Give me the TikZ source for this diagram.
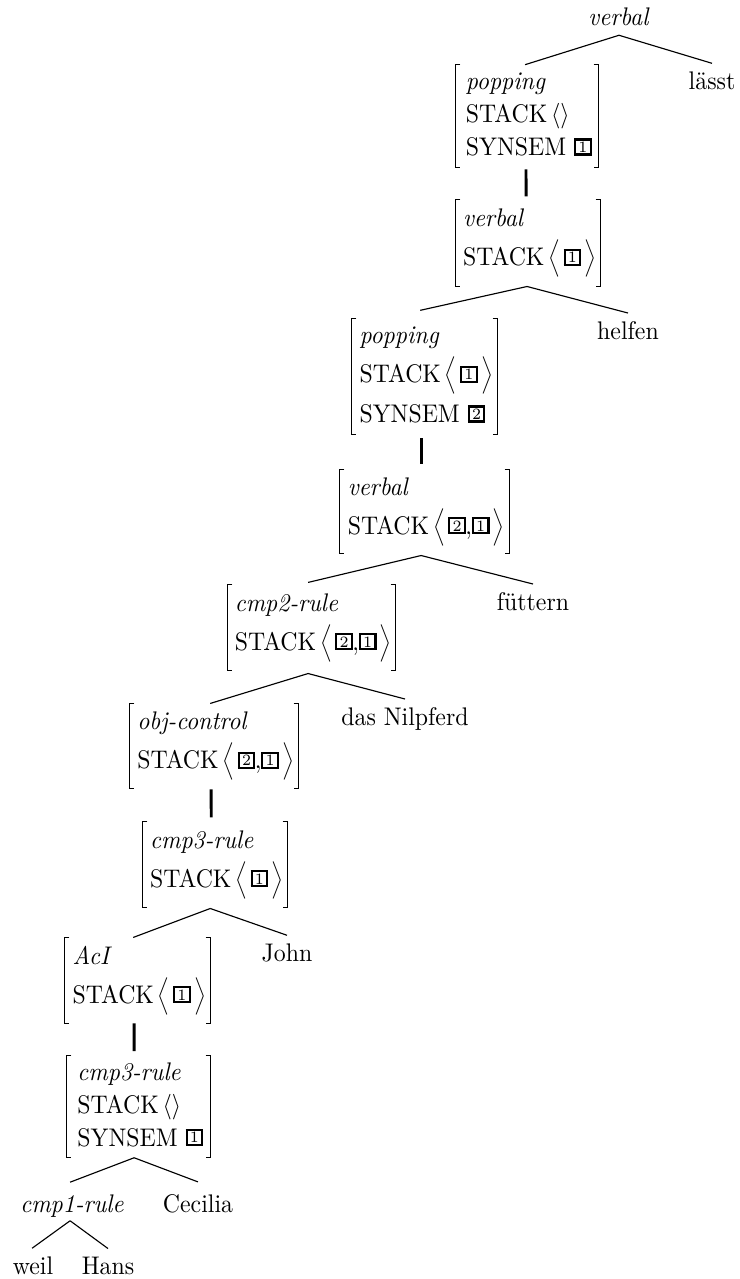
\documentclass[tikz,border=0pt]{standalone}
\usepackage{graphicx}
\newcommand{\tg}[1]{\raisebox{1.3pt}{\setlength{\fboxsep}{0.45pt}\setlength{\fboxrule}{0.85pt}\fbox{\kern0.5pt\fontsize{6.2}{6.2}\selectfont #1\kern0.5pt}}}
\newcommand{\bigla}{\raisebox{0.8pt}{\scalebox{0.82}{$\Big\langle$}}}
\newcommand{\bigra}{\raisebox{0.8pt}{\scalebox{0.82}{$\Big\rangle$}}}
\newcommand{\lst}[1]{\ensuremath{\vphantom{\Big\langle}\mkern3mu\bigla\mkern2.5mu #1\mkern2.5mu\bigra}}
\newcommand{\cma}{\mkern-0.5mu{,}}
\renewcommand{\arraystretch}{1.08}
\newenvironment{avmtab}{\begin{tabular}{@{\hspace{1.5pt}}l@{}}}{\end{tabular}}
\tikzset{
  avm/.style={inner xsep=1pt, inner ysep=0.5pt},
  bwh/.style 2 args={minimum width=#1*0.42pt, minimum height=#2*0.3925pt},
  word/.style={anchor=base, inner sep=3.33pt},
  thin/.style={line width=0.45pt},
  bar/.style={line width=1.2pt},
  bracket/.style={line width=0.5pt}
}
\begin{document}
\begin{tikzpicture}
\useasboundingbox (0pt,0pt) rectangle (310.38pt,-537.18pt);
\begin{scope}[transform canvas={yscale=1.07}, x=0.42pt, y=-0.3925pt]
% word nodes
\node[word] (vtop) at (619,26) {\textit{verbal}};
\node[word] (laesst) at (712,90) {lässt};
\node[word] (helfen) at (628,340) {helfen};
\node[word] (fuettern) at (533,611) {füttern};
\node[word] (nilpferd) at (405,726) {das Nilpferd};
\node[word] (john) at (287,962) {John};
\node[word] (cmp1) at (72,1213) {\textit{cmp1-rule}};
\node[word] (cecilia) at (198,1213) {Cecilia};
\node[word] (weil) at (33,1275) {weil};
\node[word] (hans) at (108,1275) {Hans};
% AVM nodes
\node[avm, bwh={142}{100}] (A1) at (527,116) {\begin{avmtab}\textit{popping}\\ STACK\,$\langle\rangle$\\ SYNSEM \tg{1}\end{avmtab}};
\node[avm, bwh={144}{86}] (A2) at (528,243) {\begin{avmtab}\textit{verbal}\\ STACK\lst{\tg{1}}\end{avmtab}};
\node[avm, bwh={145}{113}] (A3) at (424.5,376.5) {\begin{avmtab}\textit{popping}\\ STACK\lst{\tg{1}}\\ SYNSEM \tg{2}\end{avmtab}};
\node[avm, bwh={169}{83}] (A4) at (424.5,511.5) {\begin{avmtab}\textit{verbal}\\ STACK\lst{\tg{2}\cma\tg{1}}\end{avmtab}};
\node[avm, bwh={167}{85}] (A5) at (311.5,627.5) {\begin{avmtab}\textit{cmp2-rule}\\ STACK\lst{\tg{2}\cma\tg{1}}\end{avmtab}};
\node[avm, bwh={168}{84}] (A6) at (214,746) {\begin{avmtab}\textit{obj-control}\\ STACK\lst{\tg{2}\cma\tg{1}}\end{avmtab}};
\node[avm, bwh={144}{85}] (A7) at (215,864.5) {\begin{avmtab}\textit{cmp3-rule}\\ STACK\lst{\tg{1}}\end{avmtab}};
\node[avm, bwh={145}{85}] (A8) at (137.5,980.5) {\begin{avmtab}\textit{AcI}\\ STACK\lst{\tg{1}}\end{avmtab}};
\node[avm, bwh={143}{99}] (A9) at (138.5,1106.5) {\begin{avmtab}\textit{cmp3-rule}\\ STACK\,$\langle\rangle$\\ SYNSEM \tg{1}\end{avmtab}};
% brackets
\foreach \n in {1,...,9}{
  \draw[bracket] ([xshift=2pt]A\n.north west) -- (A\n.north west) -- (A\n.south west) -- ([xshift=2pt]A\n.south west);
  \draw[bracket] ([xshift=-2pt]A\n.north east) -- (A\n.north east) -- (A\n.south east) -- ([xshift=-2pt]A\n.south east);
}
% tree lines
\draw[thin] (vtop.south) -- ([xshift=-0.8pt]A1.north);
\draw[thin] (vtop.south) -- (laesst.north);
\draw[bar] ([xshift=-0.4pt,yshift=-0.8pt]A1.south) -- ([xshift=-0.8pt,yshift=1.2pt]A2.north);
\draw[thin] ([xshift=-0.4pt]A2.south) -- ([xshift=-1.8pt,yshift=3.3pt]A3.north);
\draw[thin] ([xshift=-0.4pt]A2.south) -- (helfen.north);
\draw[bar] ([xshift=-1.43pt,yshift=-1.6pt]A3.south) -- ([xshift=-1.43pt,yshift=2pt]A4.north);
\draw[thin] ([xshift=-1.43pt,yshift=-0.8pt]A4.south) -- ([xshift=-1.43pt,yshift=0.8pt]A5.north);
\draw[thin] ([xshift=-1.43pt,yshift=-0.8pt]A4.south) -- (fuettern.north);
\draw[thin] ([xshift=-1.43pt,yshift=-1.2pt]A5.south) -- ([xshift=-1.6pt]A6.north);
\draw[thin] ([xshift=-1.43pt,yshift=-1.2pt]A5.south) -- (nilpferd.north);
\draw[bar] ([xshift=-1.2pt,yshift=-0.4pt]A6.south) -- ([xshift=-1.6pt,yshift=1.6pt]A7.north);
\draw[thin] ([xshift=-2pt,yshift=-0.4pt]A7.south) -- ([xshift=-1.8pt]A8.north);
\draw[thin] ([xshift=-2pt,yshift=-0.4pt]A7.south) -- (john.north);
\draw[bar] ([xshift=-1.43pt]A8.south) -- ([xshift=-1.84pt,yshift=1.6pt]A9.north);
\draw[thin] ([xshift=-1.84pt]A9.south) -- ([xshift=-0.8pt,yshift=1.6pt]cmp1.north);
\draw[thin] ([xshift=-1.84pt]A9.south) -- ([yshift=1.6pt]cecilia.north);
\draw[thin] ([xshift=-0.8pt,yshift=2.4pt]cmp1.south) -- ([xshift=-0.4pt]weil.north);
\draw[thin] ([xshift=-0.8pt,yshift=2.4pt]cmp1.south) -- (hans.north);
\end{scope}
\end{tikzpicture}
\end{document}
